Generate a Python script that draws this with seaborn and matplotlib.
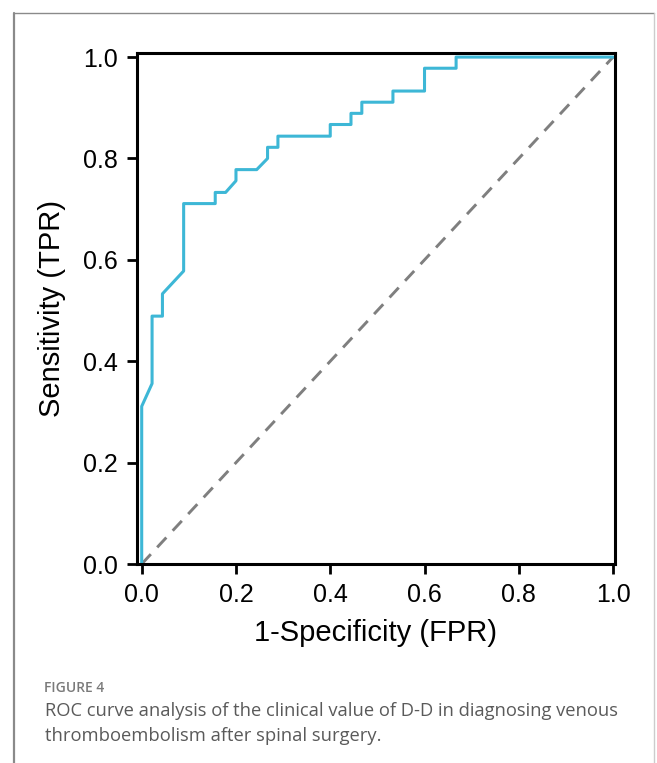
import matplotlib
matplotlib.use("Agg")
import matplotlib.pyplot as plt
from matplotlib.lines import Line2D
import pandas as pd
import seaborn as sns

# --- datos de la curva ROC ---
fpr = [0.0, 0.0, 0.022, 0.022, 0.044, 0.044, 0.089, 0.089, 0.156, 0.156,
       0.178, 0.2, 0.2, 0.244, 0.267, 0.267, 0.289, 0.289, 0.4, 0.4,
       0.444, 0.444, 0.467, 0.467, 0.533, 0.533, 0.6, 0.6, 0.667, 0.667, 1.0]
tpr = [0.0, 0.311, 0.356, 0.489, 0.489, 0.533, 0.578, 0.711, 0.711, 0.733,
       0.733, 0.756, 0.778, 0.778, 0.8, 0.822, 0.822, 0.844, 0.844, 0.867,
       0.867, 0.889, 0.889, 0.911, 0.911, 0.933, 0.933, 0.978, 0.978, 1.0, 1.0]
ref_line = [0.0, 1.0]  # clasificador aleatorio
ticks = [0.0, 0.2, 0.4, 0.6, 0.8, 1.0]
tick_labels = ["0.0", "0.2", "0.4", "0.6", "0.8", "1.0"]

x_label = "1-Specificity (FPR)"
y_label = "Sensitivity (TPR)"
fig_tag = "FIGURE 4"
caption = ["ROC curve analysis of the clinical value of D-D in diagnosing venous",
           "thromboembolism after spinal surgery."]

sns.set_style("ticks")
plt.rcParams["font.family"] = ["Liberation Sans", "DejaVu Sans"]

roc = pd.DataFrame({"fpr": fpr, "tpr": tpr})
diag = pd.DataFrame({"x": ref_line, "y": ref_line})

fig = plt.figure(figsize=(6.57, 7.63), dpi=100)
ax = fig.add_axes([0.2085, 0.2608, 0.7275, 0.6697])

sns.lineplot(data=diag, x="x", y="y", ax=ax, color="#7f7f7f", lw=2.1,
             linestyle=(0, (4.6, 3.2)), sort=False, estimator=None)
sns.lineplot(data=roc, x="fpr", y="tpr", ax=ax, color="#3db7d6", lw=2.2,
             sort=False, estimator=None)

ax.set_xlim(-0.01, 1.004)
ax.set_ylim(0, 1.008)
ax.set_xticks(ticks)
ax.set_xticklabels(tick_labels)
ax.set_yticks(ticks)
ax.set_yticklabels(tick_labels)
ax.tick_params(direction="out", length=7.5, width=2, labelsize=18, pad=6, colors="black")

for s in ax.spines.values():
    s.set_visible(True)
    s.set_linewidth(2.2)
    s.set_color("black")

ax.set_xlabel(x_label, fontsize=21, va="center", color="black")
ax.set_ylabel(y_label, fontsize=21, va="center", color="black")
ax.xaxis.set_label_coords(0.5, -0.135)
ax.yaxis.set_label_coords(-0.178, 0.5)

# --- pie de figura ---
fig.text(0.067, 0.093, fig_tag, fontsize=10, color="#7a7a7a", family="Open Sans",
         weight="semibold", va="baseline")
fig.text(0.068, 0.0616, caption[0], fontsize=13.2, color="#5a5a5a", family="Open Sans",
         va="baseline")
fig.text(0.068, 0.0288, caption[1], fontsize=13.2, color="#5a5a5a", family="Open Sans",
         va="baseline")

# marco exterior
fig.add_artist(Line2D([0.0213, 0.0213], [0, 0.983], color="#8a8a8a", lw=1.6))
fig.add_artist(Line2D([0.0213, 0.9954], [0.983, 0.983], color="#8a8a8a", lw=1.0))
fig.add_artist(Line2D([0.9954, 0.9954], [0, 0.983], color="#cccccc", lw=1.0))

fig.savefig("out.png", dpi=100)
plt.close(fig)
